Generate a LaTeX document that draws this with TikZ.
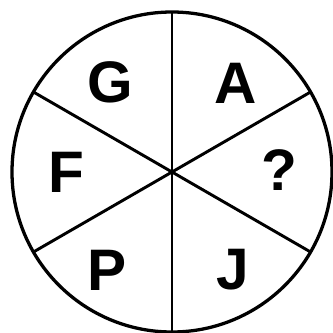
\documentclass[tikz,border=0pt]{standalone}
\usepackage{fontspec}
\setmainfont{Liberation Sans}
\usepackage{tikz}

\tikzset{
  letter/.style={font=\fontsize{50}{50}\selectfont\bfseries, inner sep=0pt}
}

\begin{document}
\begin{tikzpicture}
        \useasboundingbox (-5.16,-4.83) rectangle (4.83,5.16);

        % Circle and spokes
        \coordinate (c) at (0,0);
        \draw[line width=2.8pt] (c) circle (4.8);
        \foreach \a in {30,90,150,210,270,330}
            \draw[line width=2.5pt] (c) -- (\a:4.8);

        % Letters
        \node[letter] (g) at (-1.86,2.70) {G};
        \node[letter] (a) at (1.92,2.67) {A};
        \node[letter] (q) at (3.21,0.06) {?};
        \node[letter] (j) at (1.83,-2.94) {J};
        \node[letter] (p) at (-1.95,-2.94) {P};
        \node[letter] (f) at (-3.18,0) {F};

    \end{tikzpicture}
\end{document}
